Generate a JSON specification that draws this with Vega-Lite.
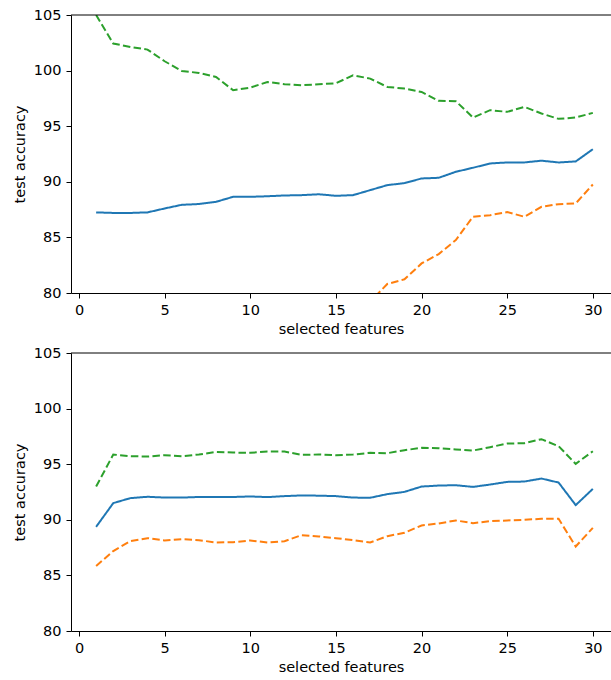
{
  "$schema": "https://vega.github.io/schema/vega-lite/v6.json",
  "padding": {"left": 12, "top": 7, "right": 0, "bottom": 5},
  "spacing": 9,
  "datasets": {
    "top": [
      {"x": 1, "s": "mean", "v": 87.25}, {"x": 2, "s": "mean", "v": 87.2}, {"x": 3, "s": "mean", "v": 87.2}, {"x": 4, "s": "mean", "v": 87.25}, {"x": 5, "s": "mean", "v": 87.6},
      {"x": 6, "s": "mean", "v": 87.93}, {"x": 7, "s": "mean", "v": 88.0}, {"x": 8, "s": "mean", "v": 88.2}, {"x": 9, "s": "mean", "v": 88.65}, {"x": 10, "s": "mean", "v": 88.65},
      {"x": 11, "s": "mean", "v": 88.7}, {"x": 12, "s": "mean", "v": 88.77}, {"x": 13, "s": "mean", "v": 88.8}, {"x": 14, "s": "mean", "v": 88.88}, {"x": 15, "s": "mean", "v": 88.74},
      {"x": 16, "s": "mean", "v": 88.8}, {"x": 17, "s": "mean", "v": 89.25}, {"x": 18, "s": "mean", "v": 89.7}, {"x": 19, "s": "mean", "v": 89.88}, {"x": 20, "s": "mean", "v": 90.3},
      {"x": 21, "s": "mean", "v": 90.36}, {"x": 22, "s": "mean", "v": 90.9}, {"x": 23, "s": "mean", "v": 91.26}, {"x": 24, "s": "mean", "v": 91.65}, {"x": 25, "s": "mean", "v": 91.74},
      {"x": 26, "s": "mean", "v": 91.74}, {"x": 27, "s": "mean", "v": 91.9}, {"x": 28, "s": "mean", "v": 91.74}, {"x": 29, "s": "mean", "v": 91.83}, {"x": 30, "s": "mean", "v": 92.93},
      {"x": 1, "s": "lower", "v": 69.5}, {"x": 2, "s": "lower", "v": 71.97}, {"x": 3, "s": "lower", "v": 72.27}, {"x": 4, "s": "lower", "v": 72.61}, {"x": 5, "s": "lower", "v": 74.36},
      {"x": 6, "s": "lower", "v": 75.89}, {"x": 7, "s": "lower", "v": 76.21}, {"x": 8, "s": "lower", "v": 76.97}, {"x": 9, "s": "lower", "v": 79.07}, {"x": 10, "s": "lower", "v": 78.83},
      {"x": 11, "s": "lower", "v": 78.42}, {"x": 12, "s": "lower", "v": 78.77}, {"x": 13, "s": "lower", "v": 78.92}, {"x": 14, "s": "lower", "v": 79.03}, {"x": 15, "s": "lower", "v": 78.62},
      {"x": 16, "s": "lower", "v": 78.02}, {"x": 17, "s": "lower", "v": 79.22}, {"x": 18, "s": "lower", "v": 80.81}, {"x": 19, "s": "lower", "v": 81.23}, {"x": 20, "s": "lower", "v": 82.66},
      {"x": 21, "s": "lower", "v": 83.5}, {"x": 22, "s": "lower", "v": 84.76}, {"x": 23, "s": "lower", "v": 86.86}, {"x": 24, "s": "lower", "v": 87.0}, {"x": 25, "s": "lower", "v": 87.28},
      {"x": 26, "s": "lower", "v": 86.86}, {"x": 27, "s": "lower", "v": 87.75}, {"x": 28, "s": "lower", "v": 87.99}, {"x": 29, "s": "lower", "v": 88.05}, {"x": 30, "s": "lower", "v": 89.76},
      {"x": 1, "s": "upper", "v": 105.0}, {"x": 2, "s": "upper", "v": 102.43}, {"x": 3, "s": "upper", "v": 102.13}, {"x": 4, "s": "upper", "v": 101.89}, {"x": 5, "s": "upper", "v": 100.84},
      {"x": 6, "s": "upper", "v": 99.97}, {"x": 7, "s": "upper", "v": 99.79}, {"x": 8, "s": "upper", "v": 99.43}, {"x": 9, "s": "upper", "v": 98.23}, {"x": 10, "s": "upper", "v": 98.47},
      {"x": 11, "s": "upper", "v": 98.98}, {"x": 12, "s": "upper", "v": 98.77}, {"x": 13, "s": "upper", "v": 98.68}, {"x": 14, "s": "upper", "v": 98.77}, {"x": 15, "s": "upper", "v": 98.86},
      {"x": 16, "s": "upper", "v": 99.58}, {"x": 17, "s": "upper", "v": 99.28}, {"x": 18, "s": "upper", "v": 98.53}, {"x": 19, "s": "upper", "v": 98.38}, {"x": 20, "s": "upper", "v": 98.08},
      {"x": 21, "s": "upper", "v": 97.28}, {"x": 22, "s": "upper", "v": 97.25}, {"x": 23, "s": "upper", "v": 95.78}, {"x": 24, "s": "upper", "v": 96.44}, {"x": 25, "s": "upper", "v": 96.29},
      {"x": 26, "s": "upper", "v": 96.74}, {"x": 27, "s": "upper", "v": 96.14}, {"x": 28, "s": "upper", "v": 95.66}, {"x": 29, "s": "upper", "v": 95.78}, {"x": 30, "s": "upper", "v": 96.2}
    ],
    "bottom": [
      {"x": 1, "s": "mean", "v": 89.37}, {"x": 2, "s": "mean", "v": 91.5}, {"x": 3, "s": "mean", "v": 91.95}, {"x": 4, "s": "mean", "v": 92.07}, {"x": 5, "s": "mean", "v": 92.0},
      {"x": 6, "s": "mean", "v": 92.0}, {"x": 7, "s": "mean", "v": 92.05}, {"x": 8, "s": "mean", "v": 92.05}, {"x": 9, "s": "mean", "v": 92.05}, {"x": 10, "s": "mean", "v": 92.1},
      {"x": 11, "s": "mean", "v": 92.04}, {"x": 12, "s": "mean", "v": 92.13}, {"x": 13, "s": "mean", "v": 92.19}, {"x": 14, "s": "mean", "v": 92.17}, {"x": 15, "s": "mean", "v": 92.13},
      {"x": 16, "s": "mean", "v": 92.0}, {"x": 17, "s": "mean", "v": 91.98}, {"x": 18, "s": "mean", "v": 92.31}, {"x": 19, "s": "mean", "v": 92.51}, {"x": 20, "s": "mean", "v": 92.99},
      {"x": 21, "s": "mean", "v": 93.08}, {"x": 22, "s": "mean", "v": 93.11}, {"x": 23, "s": "mean", "v": 92.96}, {"x": 24, "s": "mean", "v": 93.17}, {"x": 25, "s": "mean", "v": 93.41},
      {"x": 26, "s": "mean", "v": 93.44}, {"x": 27, "s": "mean", "v": 93.71}, {"x": 28, "s": "mean", "v": 93.35}, {"x": 29, "s": "mean", "v": 91.32}, {"x": 30, "s": "mean", "v": 92.78},
      {"x": 1, "s": "lower", "v": 85.84}, {"x": 2, "s": "lower", "v": 87.19}, {"x": 3, "s": "lower", "v": 88.08}, {"x": 4, "s": "lower", "v": 88.35}, {"x": 5, "s": "lower", "v": 88.14},
      {"x": 6, "s": "lower", "v": 88.26}, {"x": 7, "s": "lower", "v": 88.17}, {"x": 8, "s": "lower", "v": 87.96}, {"x": 9, "s": "lower", "v": 87.99}, {"x": 10, "s": "lower", "v": 88.14},
      {"x": 11, "s": "lower", "v": 87.96}, {"x": 12, "s": "lower", "v": 88.08}, {"x": 13, "s": "lower", "v": 88.62}, {"x": 14, "s": "lower", "v": 88.5}, {"x": 15, "s": "lower", "v": 88.35},
      {"x": 16, "s": "lower", "v": 88.17}, {"x": 17, "s": "lower", "v": 87.96}, {"x": 18, "s": "lower", "v": 88.53}, {"x": 19, "s": "lower", "v": 88.83}, {"x": 20, "s": "lower", "v": 89.49},
      {"x": 21, "s": "lower", "v": 89.67}, {"x": 22, "s": "lower", "v": 89.94}, {"x": 23, "s": "lower", "v": 89.7}, {"x": 24, "s": "lower", "v": 89.88}, {"x": 25, "s": "lower", "v": 89.94},
      {"x": 26, "s": "lower", "v": 90.0}, {"x": 27, "s": "lower", "v": 90.09}, {"x": 28, "s": "lower", "v": 90.09}, {"x": 29, "s": "lower", "v": 87.6}, {"x": 30, "s": "lower", "v": 89.28},
      {"x": 1, "s": "upper", "v": 92.99}, {"x": 2, "s": "upper", "v": 95.87}, {"x": 3, "s": "upper", "v": 95.72}, {"x": 4, "s": "upper", "v": 95.69}, {"x": 5, "s": "upper", "v": 95.81},
      {"x": 6, "s": "upper", "v": 95.72}, {"x": 7, "s": "upper", "v": 95.87}, {"x": 8, "s": "upper", "v": 96.11}, {"x": 9, "s": "upper", "v": 96.05}, {"x": 10, "s": "upper", "v": 96.02},
      {"x": 11, "s": "upper", "v": 96.14}, {"x": 12, "s": "upper", "v": 96.14}, {"x": 13, "s": "upper", "v": 95.84}, {"x": 14, "s": "upper", "v": 95.87}, {"x": 15, "s": "upper", "v": 95.81},
      {"x": 16, "s": "upper", "v": 95.87}, {"x": 17, "s": "upper", "v": 96.02}, {"x": 18, "s": "upper", "v": 95.99}, {"x": 19, "s": "upper", "v": 96.26}, {"x": 20, "s": "upper", "v": 96.47},
      {"x": 21, "s": "upper", "v": 96.44}, {"x": 22, "s": "upper", "v": 96.32}, {"x": 23, "s": "upper", "v": 96.23}, {"x": 24, "s": "upper", "v": 96.53}, {"x": 25, "s": "upper", "v": 96.86},
      {"x": 26, "s": "upper", "v": 96.89}, {"x": 27, "s": "upper", "v": 97.25}, {"x": 28, "s": "upper", "v": 96.62}, {"x": 29, "s": "upper", "v": 95.03}, {"x": 30, "s": "upper", "v": 96.17}
    ]
  },
  "vconcat": [
    {
      "width": 540,
      "height": 278,
      "layer": [
        {
          "data": {"name": "top"},
          "mark": {"type": "line", "clip": true, "strokeWidth": 2},
          "encoding": {
            "x": {"field": "x", "type": "quantitative", "title": "selected features", "scale": {"domain": [-0.467, 31.06], "nice": false, "zero": false}, "axis": {"values": [0, 5, 10, 15, 20, 25, 30]}},
            "y": {"field": "v", "type": "quantitative", "title": "test accuracy", "scale": {"domain": [80, 105], "nice": false, "zero": false}, "axis": {"values": [80, 85, 90, 95, 100, 105]}},
            "color": {"field": "s", "type": "nominal", "legend": null, "scale": {"domain": ["mean", "lower", "upper"], "range": ["#1f77b4", "#ff7f0e", "#2ca02c"]}},
            "strokeDash": {"field": "s", "type": "nominal", "legend": null, "scale": {"domain": ["mean", "lower", "upper"], "range": [[1, 0], [7.5, 3.3], [7.5, 3.3]]}}
          }
        },
        {
          "data": {"values": [{}]},
          "mark": {"type": "rule", "color": "black", "strokeWidth": 1},
          "encoding": {"y": {"datum": 105}}
        }
      ]
    },
    {
      "width": 540,
      "height": 278,
      "layer": [
        {
          "data": {"name": "bottom"},
          "mark": {"type": "line", "clip": true, "strokeWidth": 2},
          "encoding": {
            "x": {"field": "x", "type": "quantitative", "title": "selected features", "scale": {"domain": [-0.467, 31.06], "nice": false, "zero": false}, "axis": {"values": [0, 5, 10, 15, 20, 25, 30]}},
            "y": {"field": "v", "type": "quantitative", "title": "test accuracy", "scale": {"domain": [80, 105], "nice": false, "zero": false}, "axis": {"values": [80, 85, 90, 95, 100, 105]}},
            "color": {"field": "s", "type": "nominal", "legend": null, "scale": {"domain": ["mean", "lower", "upper"], "range": ["#1f77b4", "#ff7f0e", "#2ca02c"]}},
            "strokeDash": {"field": "s", "type": "nominal", "legend": null, "scale": {"domain": ["mean", "lower", "upper"], "range": [[1, 0], [7.5, 3.3], [7.5, 3.3]]}}
          }
        },
        {
          "data": {"values": [{}]},
          "mark": {"type": "rule", "color": "black", "strokeWidth": 1},
          "encoding": {"y": {"datum": 105}}
        }
      ]
    }
  ],
  "config": {
    "view": {"stroke": null},
    "axis": {
      "grid": false,
      "labelFont": "DejaVu Sans",
      "labelFontSize": 14.5,
      "labelColor": "black",
      "titleFont": "DejaVu Sans",
      "titleFontSize": 14.5,
      "titleFontWeight": "normal",
      "titleColor": "black",
      "tickColor": "black",
      "tickSize": 5,
      "tickWidth": 1,
      "domainColor": "black",
      "domainWidth": 1,
      "labelPadding": 5,
      "titlePadding": 6,
      "labelFlush": false,
      "labelOverlap": false
    }
  }
}
